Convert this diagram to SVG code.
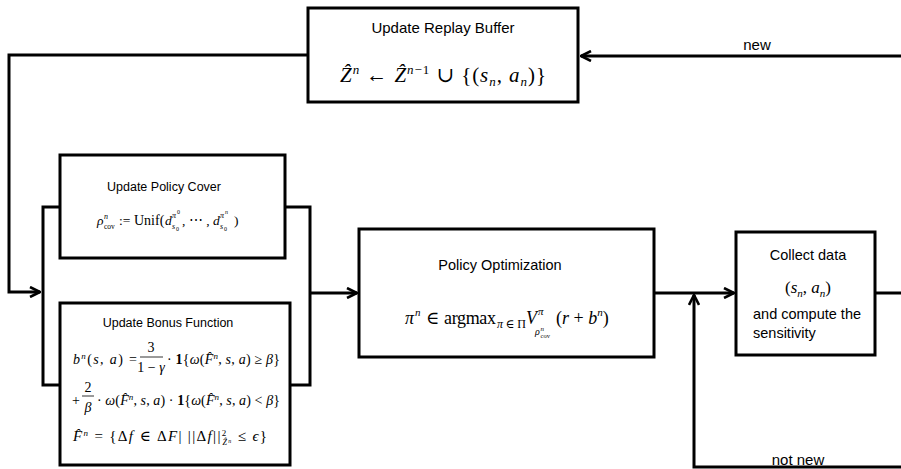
<svg xmlns="http://www.w3.org/2000/svg" width="901" height="469" viewBox="0 0 901 469">
<style>
.box{fill:#fff;stroke:#000;stroke-width:3}
.ln{fill:none;stroke:#000;stroke-width:3}
.t{font-family:"Liberation Sans",Arial,sans-serif;fill:#000}
.m{font-family:"Liberation Serif","DejaVu Serif",serif;fill:#000}
.i{font-style:italic}
.bar{stroke:#000;stroke-width:0.8}
</style>
<defs>
<marker id="arr" viewBox="0 0 12 12" refX="11" refY="6" markerWidth="12" markerHeight="12" markerUnits="userSpaceOnUse" orient="auto">
<path d="M1,1 L11,6 L1,11" fill="none" stroke="#000" stroke-width="2.6"/>
</marker>
</defs>
<rect width="901" height="469" fill="#fff"/>
<g id="connectors">
<path class="ln" d="M308,55 H9 V292 H40" marker-end="url(#arr)"/>
<path class="ln" d="M901,56 H581" marker-end="url(#arr)"/>
<path class="ln" d="M311,293 H357" marker-end="url(#arr)"/>
<path class="ln" d="M654,293 H734" marker-end="url(#arr)"/>
<path class="ln" d="M875,293 H901"/>
<path class="ln" d="M901,467 H694 V295" marker-end="url(#arr)"/>
<text class="t" x="757" y="50" font-size="15" text-anchor="middle">new</text>
<text class="t" x="798" y="465" font-size="15" text-anchor="middle">not new</text>
</g>
<g id="bracket">
<rect class="box" x="43" y="207" width="267" height="178"/>
</g>
<g id="replay-buffer">
<rect class="box" x="308" y="8" width="270" height="94"/>
<text class="t" x="443" y="33" font-size="15" text-anchor="middle">Update Replay Buffer</text>
<text class="m" x="340" y="82" font-size="21" textLength="206" lengthAdjust="spacing"><tspan class="i">Ẑ</tspan><tspan font-size="13" dy="-8" class="i">n</tspan><tspan dy="8"> ← </tspan><tspan class="i">Ẑ</tspan><tspan font-size="13" dy="-8"><tspan class="i">n</tspan>−1</tspan><tspan dy="8"> ∪ {(</tspan><tspan class="i">s</tspan><tspan font-size="13" dy="4" class="i">n</tspan><tspan dy="-4">, </tspan><tspan class="i">a</tspan><tspan font-size="13" dy="4" class="i">n</tspan><tspan dy="-4">)}</tspan></text>
</g>
<g id="policy-cover">
<rect class="box" x="60" y="155" width="225" height="103"/>
<text class="t" x="164" y="191" font-size="12.5" text-anchor="middle">Update Policy Cover</text>
<text class="m i" x="97" y="225" font-size="13.5">ρ</text>
<text class="m i" x="104" y="219" font-size="8">n</text>
<text class="m" x="104" y="229" font-size="7.5">cov</text>
<text class="m" x="119" y="225" font-size="13.5">:=</text>
<text class="m" x="134" y="225" font-size="14">Unif(</text>
<text class="m i" x="165" y="225" font-size="13.5">d</text>
<text class="m i" x="172" y="218" font-size="8">π</text>
<text class="m" x="177" y="214" font-size="6">0</text>
<text class="m i" x="172" y="229" font-size="8">s</text>
<text class="m" x="176" y="231" font-size="6">0</text>
<text class="m" x="182" y="225" font-size="13.5">, ⋯ ,</text>
<text class="m i" x="213" y="225" font-size="13.5">d</text>
<text class="m i" x="220" y="218" font-size="8">π</text>
<text class="m i" x="225" y="214" font-size="6">n</text>
<text class="m i" x="220" y="229" font-size="8">s</text>
<text class="m" x="224" y="231" font-size="6">0</text>
<text class="m" x="234" y="225" font-size="13.5">)</text>
</g>
<g id="bonus-function">
<rect class="box" x="60" y="303" width="230" height="162"/>
<text class="t" x="168" y="327" font-size="12.5" text-anchor="middle">Update Bonus Function</text>
<text class="m" x="73" y="364" font-size="14" textLength="64" lengthAdjust="spacing"><tspan class="i">b</tspan><tspan font-size="9" dy="-5" class="i">n</tspan><tspan dy="5">(</tspan><tspan class="i">s</tspan><tspan>, </tspan><tspan class="i">a</tspan><tspan>) =</tspan></text>
<text class="m" x="151" y="352" font-size="14" text-anchor="middle">3</text>
<line class="bar" x1="140" y1="357" x2="163" y2="357"/>
<text class="m" x="151" y="372" font-size="14" text-anchor="middle">1 − <tspan class="i">γ</tspan></text>
<text class="m" x="167" y="364" font-size="14" textLength="113" lengthAdjust="spacing">· <tspan font-weight="bold">1</tspan>{<tspan class="i">ω</tspan>(<tspan class="i">F̂</tspan><tspan font-size="9" dy="-5" class="i">n</tspan><tspan dy="5">, </tspan><tspan class="i">s</tspan>, <tspan class="i">a</tspan>) ≥ <tspan class="i">β</tspan>}</text>
<text class="m" x="72" y="405" font-size="14">+</text>
<text class="m" x="88" y="392" font-size="14" text-anchor="middle">2</text>
<line class="bar" x1="82" y1="396" x2="94" y2="396"/>
<text class="m i" x="88" y="412" font-size="14" text-anchor="middle">β</text>
<text class="m" x="97" y="405" font-size="14" textLength="183" lengthAdjust="spacing">· <tspan class="i">ω</tspan>(<tspan class="i">F̂</tspan><tspan font-size="9" dy="-5" class="i">n</tspan><tspan dy="5">, </tspan><tspan class="i">s</tspan>, <tspan class="i">a</tspan>) · <tspan font-weight="bold">1</tspan>{<tspan class="i">ω</tspan>(<tspan class="i">F̂</tspan><tspan font-size="9" dy="-5" class="i">n</tspan><tspan dy="5">, </tspan><tspan class="i">s</tspan>, <tspan class="i">a</tspan>) &lt; <tspan class="i">β</tspan>}</text>
<text class="m" x="73" y="441" font-size="15" textLength="194" lengthAdjust="spacing"><tspan class="i">F̂</tspan><tspan font-size="9" dy="-5" class="i">n</tspan><tspan dy="5"> = {Δ</tspan><tspan class="i">f</tspan> ∈ Δ<tspan class="i">F</tspan>| ||Δ<tspan class="i">f</tspan>||<tspan font-size="9" dy="-5">2</tspan><tspan font-size="8" dx="-5" dy="9" class="i">Ẑ</tspan><tspan font-size="6" dy="-2" class="i">n</tspan><tspan dy="-2"> ≤ </tspan><tspan class="i">ϵ</tspan>}</text>
</g>
<g id="policy-optimization">
<rect class="box" x="359" y="229" width="295" height="128"/>
<text class="t" x="500" y="270" font-size="14.5" text-anchor="middle">Policy Optimization</text>
<text class="m i" x="405" y="324" font-size="18">π</text>
<text class="m i" x="415" y="316" font-size="11">n</text>
<text class="m" x="426" y="324" font-size="18">∈</text>
<text class="m" x="444" y="324" font-size="18" textLength="52" lengthAdjust="spacing">argmax</text>
<text class="m" x="497" y="328" font-size="12" textLength="29" lengthAdjust="spacing"><tspan class="i">π</tspan>∈Π</text>
<text class="m i" x="526" y="324" font-size="18">V</text>
<text class="m i" x="538" y="315" font-size="11">π</text>
<text class="m i" x="535" y="335" font-size="10">ρ</text>
<text class="m i" x="540.5" y="331" font-size="7">n</text>
<text class="m" x="540.5" y="338" font-size="6.5">cov</text>
<text class="m" x="556" y="324" font-size="18">(<tspan class="i">r</tspan> + <tspan class="i">b</tspan><tspan font-size="11" dy="-8" class="i">n</tspan><tspan dy="8">)</tspan></text>
</g>
<g id="collect-data">
<rect class="box" x="736" y="232" width="139" height="123"/>
<text class="t" x="808" y="260" font-size="14.5" text-anchor="middle">Collect data</text>
<text class="m" x="808" y="293" font-size="17" text-anchor="middle">(<tspan class="i">s</tspan><tspan font-size="11" dy="4" class="i">n</tspan><tspan dy="-4">, </tspan><tspan class="i">a</tspan><tspan font-size="11" dy="4" class="i">n</tspan><tspan dy="-4">)</tspan></text>
<text class="t" x="753" y="319" font-size="14.5">and compute the</text>
<text class="t" x="753" y="338" font-size="14.5">sensitivity</text>
</g>
</svg>
